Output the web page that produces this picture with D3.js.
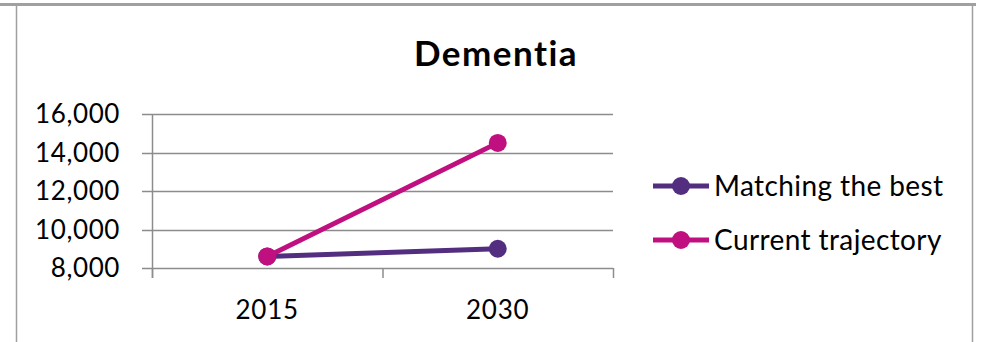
<!DOCTYPE html>
<html><head><meta charset="utf-8">
<script src="https://cdn.jsdelivr.net/npm/d3@7"></script>
<style>body{margin:0;background:#fff}svg{display:block}text{font-family:Lato,"Open Sans",sans-serif;fill:#000}</style>
</head><body><svg id="c" width="982" height="342"></svg>
<script>
const categories = ["2015", "2030"];
const seriesNames = ["Matching the best", "Current trajectory"];
const matchingBest = [8600, 9000];
const currentTrajectory = [8600, 14500];
const yTicks = [8000, 10000, 12000, 14000, 16000];
const colors = ["#522d80", "#c0107f"];

const svg = d3.select("#c");
// outer frame
svg.append("rect").attr("x",0).attr("y",3).attr("width",976).attr("height",3).attr("fill","#a0a0a0");
svg.append("line").attr("x1",16.5).attr("x2",16.5).attr("y1",6).attr("y2",342).attr("stroke","#a0a0a0").attr("stroke-width",1.5);
svg.append("line").attr("x1",972.5).attr("x2",972.5).attr("y1",6).attr("y2",342).attr("stroke","#a0a0a0").attr("stroke-width",1.5);

const x = d3.scaleBand().domain(categories).range([152,613]).padding(0);
const y = d3.scaleLinear().domain([8000,16000]).range([268,114]);

// gridlines
svg.append("g").selectAll("line").data(yTicks).join("line")
  .attr("x1",142).attr("x2",613).attr("y1",d=>Math.round(y(d))+0.5).attr("y2",d=>Math.round(y(d))+0.5)
  .attr("stroke","#8c8c8c").attr("stroke-width",1.5);
// y axis line
svg.append("line").attr("x1",152.5).attr("x2",152.5).attr("y1",114).attr("y2",278).attr("stroke","#8c8c8c").attr("stroke-width",1.5);
// x ticks
svg.append("g").selectAll("line").data(categories.concat(["end"])).join("line")
  .attr("x1",(d,i)=> i<categories.length ? x(d)+0.5 : x.range()[1]+0.5)
  .attr("x2",(d,i)=> i<categories.length ? x(d)+0.5 : x.range()[1]+0.5)
  .attr("y1",268).attr("y2",278).attr("stroke","#8c8c8c").attr("stroke-width",1.5);

// y labels
svg.append("g").selectAll("text").data(yTicks).join("text")
  .attr("x",120).attr("y",d=>y(d)).attr("dy","0.36em").attr("text-anchor","end")
  .attr("font-size",26).attr("letter-spacing",0.6).text(d3.format(","));
// x labels
svg.append("g").selectAll("text").data(categories).join("text")
  .attr("x",d=>x(d)+x.bandwidth()/2).attr("y",319).attr("text-anchor","middle")
  .attr("font-size",26).attr("letter-spacing",0.8).text(d=>d);

// title
svg.append("text").attr("x",496).attr("y",66).attr("text-anchor","middle")
  .attr("font-size",35).attr("font-weight","bold").attr("letter-spacing",1.5).text("Dementia");

const series = [matchingBest, currentTrajectory];
const line = d3.line().x((d,i)=>x(categories[i])+x.bandwidth()/2).y(d=>y(d));
series.forEach((s,k)=>{
  const g = svg.append("g");
  g.append("path").attr("d",line(s)).attr("fill","none").attr("stroke",colors[k]).attr("stroke-width",5);
  g.selectAll("circle").data(s).join("circle")
    .attr("cx",(d,i)=>x(categories[i])+x.bandwidth()/2).attr("cy",d=>y(d)).attr("r",9).attr("fill",colors[k]);
});

// legend
const leg = svg.append("g");
seriesNames.forEach((n,k)=>{
  const ly = 186 + k*54;
  leg.append("line").attr("x1",653).attr("x2",709).attr("y1",ly).attr("y2",ly).attr("stroke",colors[k]).attr("stroke-width",5);
  leg.append("circle").attr("cx",681).attr("cy",ly).attr("r",9).attr("fill",colors[k]);
  leg.append("text").attr("x",714).attr("y",ly).attr("dy","0.36em").attr("font-size",28).attr("letter-spacing",0.4).text(n);
});
</script></body></html>
